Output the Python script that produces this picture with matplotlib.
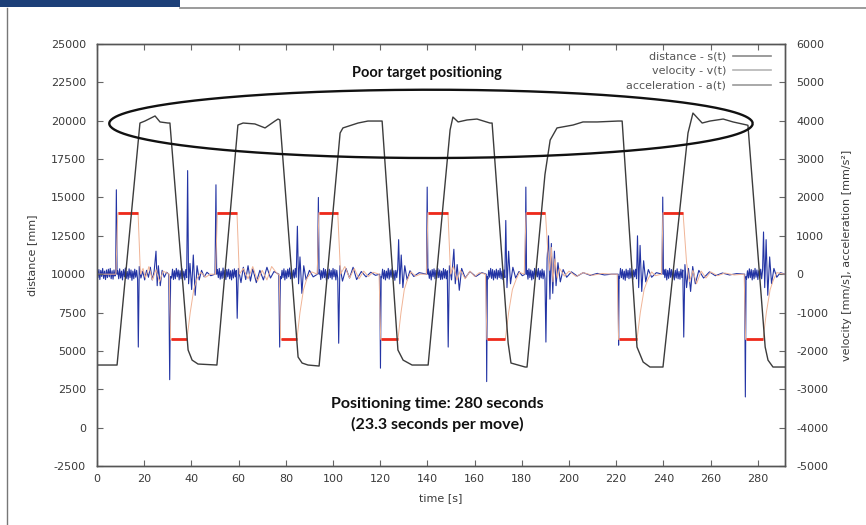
import numpy as np
import matplotlib
matplotlib.use("Agg")
import matplotlib.pyplot as plt
from matplotlib.path import Path
from matplotlib.patches import PathPatch, Rectangle
from matplotlib.lines import Line2D

plt.rcParams["axes.unicode_minus"] = False

# distance s(t) [mm] -> left axis, (time [s], mm)
dist_pts = [
    (0.0, 4080), (8.5, 4080), (18.2, 19850), (20.3, 19980), (24.6, 20310), (26.7, 19920),
    (30.1, 19850), (30.9, 19850), (38.6, 5060), (40.3, 4400), (42.8, 4145), (50.8, 4080),
    (59.7, 19720), (61.9, 19850), (66.9, 19790), (71.2, 19530), (75.4, 19980), (76.7, 20110),
    (77.5, 20050), (85.2, 4600), (86.9, 4210), (89.4, 4080), (94.1, 4015), (103.0, 19200),
    (104.2, 19530), (110.6, 19850), (114.8, 19980), (120.8, 19980), (127.5, 5060), (129.7, 4400),
    (133.5, 4080), (140.3, 4080), (149.6, 19400), (150.8, 20240), (153.0, 19920), (156.8, 20050),
    (161.0, 20110), (166.5, 19850), (167.4, 19850), (174.2, 5515), (175.4, 4210), (181.4, 3950),
    (182.2, 3950), (189.8, 16500), (192.0, 18740), (194.9, 19530), (201.7, 19720), (205.9, 19920),
    (211.9, 19920), (220.8, 19980), (222.5, 19980), (228.8, 5250), (231.4, 4275), (234.3, 3950),
    (239.8, 3950), (250.4, 19200), (252.5, 20500), (256.4, 19850), (259.7, 19980), (265.3, 20110),
    (269.5, 19920), (275.4, 19720), (275.8, 19700), (283.1, 5250), (284.3, 4400), (286.4, 3950),
    (291.5, 3950),
]

# velocity v(t) [mm/s] -> right axis
vel_pts = [
    (0.0, 0), (8.0, 0), (8.8, 1600), (17.4, 1600), (18.4, 0), (19.5, 150), (20.5, -100),
    (22.0, 200), (23.5, -150), (25.0, 120), (26.5, -200), (28.0, 80), (30.6, 0),
    (31.2, -1700), (38.1, -1700), (39.5, -1000), (41.0, -400), (42.5, -100), (44.0, 50),
    (46.0, -80), (48.0, 0), (50.2, 0),
    (51.0, 1600), (59.3, 1600), (60.3, 0), (62.0, 150), (64.0, -120), (66.0, 200), (68.0, -180),
    (70.0, 100), (72.0, -150), (74.0, 200), (76.5, 0), (77.2, 0),
    (77.8, -1700), (84.7, -1700), (86.0, -1000), (87.5, -400), (89.0, -100), (91.0, 60), (93.3, 0),
    (94.0, 1600), (102.0, 1600), (103.2, 0), (105.0, 200), (107.0, -100), (109.0, 150),
    (111.0, -120), (113.0, 80), (115.0, -60), (117.0, 50), (119.5, 0),
    (120.2, -1700), (127.5, -1700), (128.8, -1000), (130.2, -400), (131.5, -150), (133.0, 60),
    (135.0, -50), (137.0, 0), (139.6, 0),
    (140.2, 1600), (148.7, 1600), (149.8, 0), (151.0, 200), (152.5, -150), (154.0, 100),
    (156.0, -120), (158.0, 80), (160.0, -60), (162.0, 40), (164.6, 0),
    (165.2, -1700), (173.0, -1700), (174.4, -1000), (176.0, -400), (177.5, -150), (179.0, 50),
    (181.0, 0),
    (181.8, 1600), (190.0, 1600), (191.0, 600), (191.8, 100), (192.5, 700), (193.2, -200),
    (194.0, 400), (195.0, -100), (196.0, 150), (198.0, -50), (200.0, 80), (203.0, -60),
    (206.0, 40), (210.0, -30), (214.0, 20), (218.0, 0), (220.4, 0),
    (221.0, -1700), (228.8, -1700), (230.2, -1000), (231.8, -400), (233.3, -150), (235.0, 60),
    (236.5, -40), (239.2, 0),
    (239.8, 1600), (248.3, 1600), (249.8, 300), (251.0, -200), (252.5, 100), (254.0, -250),
    (256.0, 80), (258.0, -100), (260.0, 60), (263.0, -40), (266.0, 30), (270.0, -20), (274.2, 0),
    (274.8, -1700), (282.2, -1700), (283.6, -1000), (285.2, -400), (286.6, -150), (288.0, 40),
    (291.5, 0),
]

# acceleration a(t) [mm/s^2] -> right axis, single samples (spikes, settling wiggles)
acc_pts = [
    (7.9, 0), (8.2, 2200), (8.5, 0),
    (17.5, -1900), (17.9, 200), (18.6, -100), (19.4, 80), (20.2, -150), (21.0, 100), (21.8, -80),
    (22.6, 180), (23.4, -150), (24.2, 70), (25.0, 600), (25.5, -300), (26.0, 220), (26.8, -300),
    (27.6, 100), (28.5, -80), (29.5, 50), (30.4, 0), (30.8, -2750), (31.2, -60),
    (38.4, 2700), (38.8, -250), (39.4, 280), (40.1, -400), (40.8, 500), (41.6, -550), (42.4, 220),
    (43.3, -150), (44.3, 100), (45.4, -70), (46.6, 50), (48.2, -40), (50.0, 0),
    (50.4, 2330), (50.7, 0),
    (59.4, -1150), (59.9, 150), (61.0, -220), (62.0, 180), (63.0, -140), (64.0, 220), (65.0, -180),
    (66.0, 140), (67.5, -220), (69.0, 100), (70.5, -150), (72.0, 180), (73.5, -100), (75.0, 70),
    (77.0, 0), (77.4, -1900), (77.7, -60),
    (84.9, 1250), (85.4, -250), (86.0, 450), (86.8, -500), (87.6, 220), (88.6, -150), (90.0, 100),
    (91.6, -70), (93.4, 0), (93.8, 2000), (94.1, 0),
    (102.4, -1800), (102.9, 220), (104.0, -180), (105.5, 150), (107.0, -100), (108.5, 180),
    (110.0, -140), (112.0, 70), (114.0, -70), (116.0, 50), (118.0, -30), (119.8, 0),
    (120.1, -2450), (120.4, -60),
    (127.8, 900), (128.3, -250), (128.9, 500), (129.6, -350), (130.4, 220), (131.4, -150),
    (132.6, 90), (134.2, -60), (136.5, 40), (139.6, 0), (139.9, 2270), (140.2, 0),
    (148.8, -1900), (149.3, 220), (150.2, -150), (151.2, 650), (151.8, -250), (152.6, 250),
    (153.5, -420), (154.5, 150), (156.0, -100), (158.0, 70), (160.5, -60), (163.0, 40),
    (164.9, 0), (165.1, -2800), (165.4, -60),
    (173.2, 1400), (173.7, -350), (174.4, 600), (175.2, -250), (176.2, 180), (177.4, -100),
    (178.8, 70), (180.2, -40), (181.4, 0), (181.7, 2270), (182.0, 0),
    (190.2, -1770), (190.7, 400), (191.3, 1000), (191.9, -650), (192.5, 800), (193.1, -500),
    (193.8, 600), (194.5, -300), (195.3, 300), (196.3, -200), (197.5, 120), (199.0, -80),
    (201.0, 60), (203.5, -50), (206.0, 40), (209.0, -30), (212.0, 20), (215.0, -20), (218.0, 0),
    (220.8, 0), (221.0, -1850), (221.2, -60),
    (229.0, 1000), (229.5, -350), (230.1, 750), (230.8, -450), (231.6, 350), (232.5, -200),
    (233.6, 120), (235.0, -80), (237.0, 40), (239.4, 0), (239.7, 2010), (240.0, 0),
    (248.6, -1640), (249.1, 250), (249.8, -350), (250.6, 150), (251.5, -450), (252.4, 200),
    (253.5, -250), (255.0, 100), (257.0, -100), (259.5, 60), (262.0, -40), (265.0, 30),
    (268.0, -20), (271.0, 15), (274.4, 0), (274.7, -3200), (275.0, -60),
    (282.4, 1100), (282.9, -350), (283.5, 900), (284.2, -550), (285.0, 450), (285.8, -250),
    (286.8, 150), (288.0, -80), (289.5, 40), (291.5, 0),
]

# noisy stretches of the acceleration (rest at start and constant-speed runs),
# one reading every 0.4 s from the start time
acc_step = 0.4
acc_bands = [
    (0.0, [300, -90, 120, -140, 100, -60, 150, -110, 80, -140,
           110, -90, 130, -70, 150, -120, 90, -130, 110, -50]),
    (8.8, [90, -120, 140, -100, 80, -150, 120, -70, 160, -110, 70,
           -130, 140, -90, 110, -160, 80, -120, 130, -80, 100, -140]),
    (31.6, [-100, 130, -140, 90, -120, 150, -70, 110, -150,
            90, -120, 140, -100, 80, -150, 120, -90]),
    (51.0, [120, -90, 150, -130, 80, -110, 160, -90, 100, -140, 120,
            -70, 130, -120, 90, -150, 110, -100, 140, -70, 100]),
    (78.0, [-120, 100, -90, 140, -150, 90, -110, 130, -70,
            160, -120, 90, -130, 110, -100, 150, -80]),
    (94.4, [110, -140, 90, -100, 150, -90, 120, -160, 80, -120,
            130, -90, 100, -130, 150, -70, 120, -150, 100, -110]),
    (120.6, [-90, 130, -120, 100, -150, 80, -100, 150, -130,
             110, -80, 140, -120, 90, -160, 100, -90, 130]),
    (140.4, [130, -110, 90, -150, 120, -70, 140, -120, 100, -100, 150,
             -90, 110, -140, 80, -130, 150, -100, 120, -120, 90]),
    (165.6, [-130, 100, -80, 150, -110, 120, -150, 90, -100, 130,
             -130, 100, -90, 150, -120, 80, -140, 110, -90]),
    (182.2, [100, -130, 140, -90, 110, -150, 80, -120, 150, -100,
             120, -70, 150, -140, 90, -100, 130, -120, 90, -110]),
    (221.4, [-110, 150, -90, 120, -130, 80, -160, 130, -90, 100,
             -120, 150, -100, 90, -140, 110, -70, 130, -120]),
    (240.2, [120, -90, 130, -150, 100, -110, 150, -80, 120, -130, 90,
             -150, 100, -100, 140, -120, 70, -130, 130, -90, 110]),
    (275.2, [-130, 90, -100, 140, -90, 120, -150, 100, -120,
             150, -80, 110, -140, 90, -100, 130, -120, 100]),
]

x_ticks = list(range(0, 281, 20))
left_ticks = list(range(-2500, 25001, 2500))
right_ticks = list(range(-5000, 6001, 1000))

legend_labels = ["distance - s(t)", "velocity - v(t)", "acceleration - a(t)"]


dist_t, dist_mm = np.array(dist_pts, dtype=float).T
vel_t, vel_v = np.array(vel_pts, dtype=float).T

acc_all = list(acc_pts)
for start, vals in acc_bands:
    for i, v in enumerate(vals):
        acc_all.append((start + acc_step * i, v))
acc_all.sort(key=lambda p: p[0])
acc_t, acc_a = np.array(acc_all, dtype=float).T


W, H = 866, 525
fig = plt.figure(figsize=(W / 100, H / 100), dpi=100)
fig.patch.set_facecolor("white")

# page decoration from the scanned report
fig.add_artist(Rectangle((0, 1 - 7 / H), 180 / W, 7 / H, transform=fig.transFigure,
                         color="#1c3f78", lw=0))
fig.add_artist(Line2D([180 / W, 1], [1 - 8 / H, 1 - 8 / H], transform=fig.transFigure,
                      color="#8a8a8a", lw=1.2))
fig.add_artist(Line2D([7 / W, 7 / W], [0, 1 - 8 / H], transform=fig.transFigure,
                      color="#777777", lw=1.0))

ax = fig.add_axes([97 / W, 1 - 466 / H, 688 / W, 422 / H])
ax2 = ax.twinx()
ax.set_zorder(ax2.get_zorder() + 1)
ax.patch.set_visible(False)

# acceleration + velocity on the right axis
ax2.plot(acc_t, acc_a, color="#2334a4", lw=0.8)
ax2.plot(vel_t, vel_v, color="#f0b496", lw=0.7)
cruise = np.ma.masked_where(np.abs(vel_v) < 1500, vel_v)
ax2.plot(vel_t, cruise, color="#ee2a1c", lw=2.0, solid_capstyle="butt")

# distance on the left axis
ax.plot(dist_t, dist_mm, color="#3c3c3c", lw=1.0)

ax.set_xlim(0, 291.5)
ax.set_ylim(-2500, 25000)
ax2.set_ylim(-5000, 6000)
ax.set_xticks(x_ticks)
ax.set_yticks(left_ticks)
ax2.set_yticks(right_ticks)

tick_kw = dict(direction="in", length=4, width=0.8, color="#666666",
               labelcolor="#3a3a3a", labelsize=8)
ax.tick_params(axis="x", top=True, pad=6, **tick_kw)
ax.tick_params(axis="y", pad=8, **tick_kw)
ax2.tick_params(axis="y", pad=8, **tick_kw)
for a in (ax, ax2):
    for s in a.spines.values():
        s.set_color("#555555")
        s.set_linewidth(1.0)

ax.set_xlabel("time [s]", fontsize=8, color="#3a3a3a", labelpad=6)
ax.set_ylabel("distance [mm]", fontsize=8, color="#3a3a3a", labelpad=10)
ax2.set_ylabel("velocity [mm/s], acceleration [mm/s²]", fontsize=8, color="#3a3a3a",
               labelpad=10)

handles = [Line2D([], [], color=c, lw=1.2) for c in ("#8a8a8a", "#b5b5b5", "#9a9a9a")]
leg = ax.legend(handles, legend_labels, loc="upper right", bbox_to_anchor=(0.99, 0.997),
                frameon=False, markerfirst=False, fontsize=8, handlelength=3.5,
                labelspacing=0.4, handletextpad=0.6, borderaxespad=0.2)
for txt in leg.get_texts():
    txt.set_color("#555555")

# hand-drawn ellipse round the plateaus
cx, cy = 141.5, 19820
rx, up, down = 136.3, 2200, 2250
th = np.linspace(0, 2 * np.pi, 300)
sn = np.sin(th)
ex = cx + rx * np.cos(th)
ey = cy + np.where(sn > 0, up * sn, down * sn)
ax.add_patch(PathPatch(Path(np.column_stack([ex, ey])), fill=False, ec="#111111",
                       lw=1.7, zorder=5))

bold = dict(fontfamily="Lato", fontweight="bold", color="#111111",
            ha="center", va="center", transform=ax.transAxes, zorder=6)
ax.text(0.48, 0.931, "Poor target positioning", fontsize=10.5, **bold)
ax.text(0.494, 0.147, "Positioning time: 280 seconds", fontsize=11.5, **bold)
ax.text(0.494, 0.099, "(23.3 seconds per move)", fontsize=11.5, **bold)

fig.savefig("out.png", dpi=100)
